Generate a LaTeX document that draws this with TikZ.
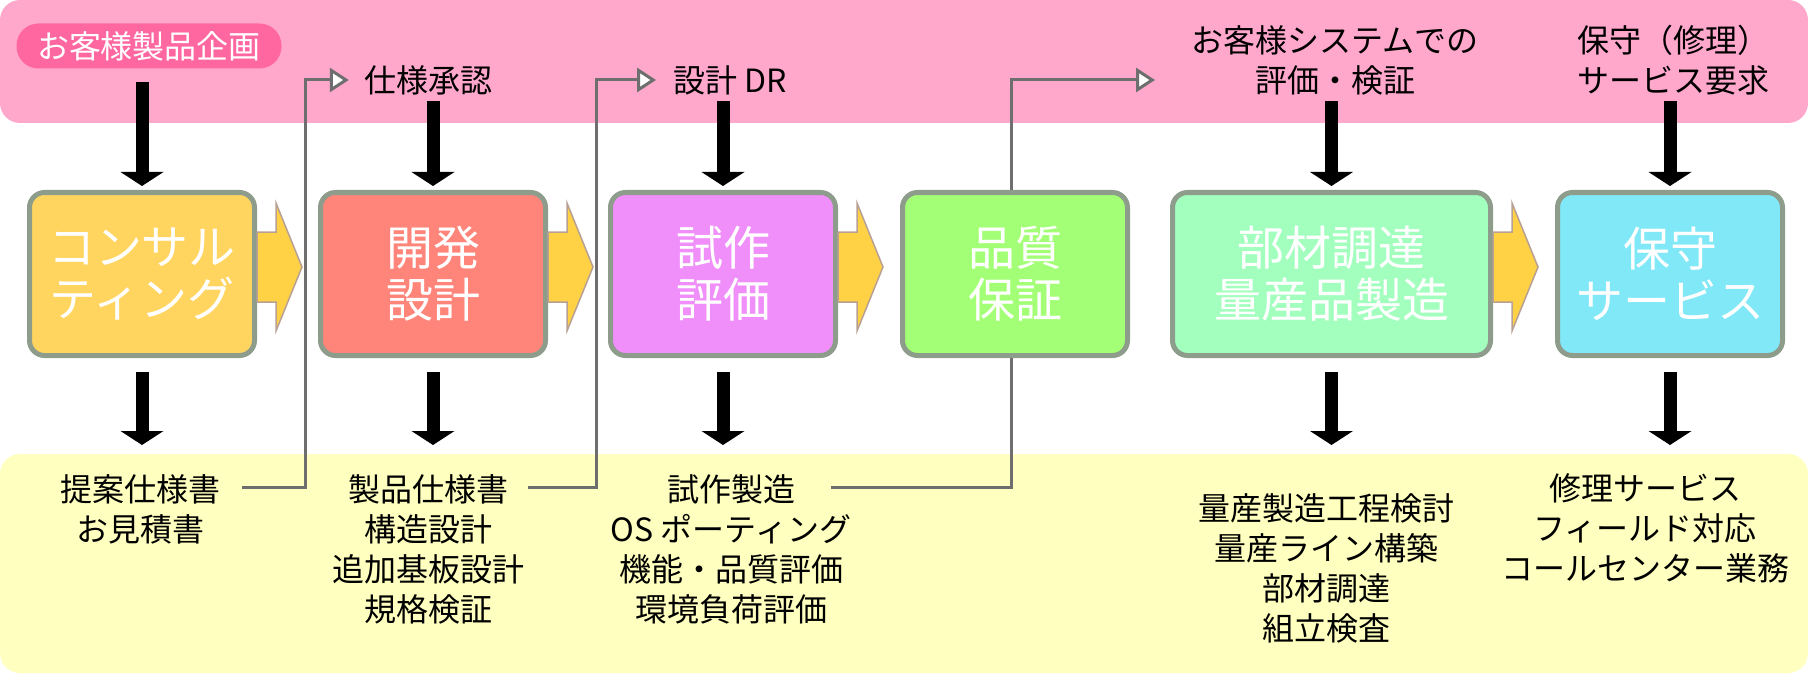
\documentclass[tikz,border=0pt]{standalone}
\usepackage{fontspec}
\setmainfont{Noto Sans CJK JP}
\usepackage{tikz}
\usetikzlibrary{arrows.meta}
\definecolor{bandpink}{HTML}{FFA8CC}
\definecolor{pillpink}{HTML}{FF67A0}
\definecolor{bandyellow}{HTML}{FFFFBF}
\definecolor{rimgray}{HTML}{8E9C8C}
\definecolor{feedgray}{HTML}{6E6E6E}
\definecolor{flowfill}{HTML}{FFD246}
\definecolor{flowline}{HTML}{B8A092}
\definecolor{cConsult}{HTML}{FFD560}
\definecolor{cDesign}{HTML}{FF857A}
\definecolor{cProto}{HTML}{F08EFA}
\definecolor{cQuality}{HTML}{A3FF75}
\definecolor{cMass}{HTML}{A2FFBE}
\definecolor{cService}{HTML}{80E8F6}
\tikzset{
	stage/.style    = {draw=rimgray, line width=5pt, rounded corners=15pt,
		minimum width=225pt, minimum height=163pt, text=white, align=center,
		font=\fontsize{47}{52}\selectfont},
	request/.style  = {inner sep=0pt, align=center, font=\fontsize{32}{40}\selectfont},
	result/.style   = {inner sep=0pt, align=center, anchor=north,
		font=\fontsize{32}{40}\selectfont},
	pill/.style     = {fill=pillpink, text=white, rounded corners=22pt,
		minimum width=265pt, minimum height=45pt, font=\fontsize{32}{40}\selectfont},
	downarrow/.style = {line width=13pt, -{Triangle[length=14pt, width=43pt, line width=0pt]}},
	feed/.style     = {draw=feedgray, line width=3pt, line join=miter,
		-{Triangle[length=19pt, width=24pt, fill=white]}}, % back to the customer
	flowarr/.style  = {draw=flowline, fill=flowfill, line width=1.5pt, line join=miter}
}
\newcommand{\flowarrow}[1]{\draw[flowarr]([yshift=7pt]#1.east) ++(0,-35) -- ++(19,0) -- ++(0,-29)
	-- ++(26,64) -- ++(-26,64) -- ++(0,-29) -- ++(-19,0) -- cycle;}

\begin{document}
\begin{tikzpicture}[x=1pt, y=-1pt]
		\useasboundingbox (0,0) rectangle (1808,674);
		\fill[bandpink, rounded corners=20pt] (0,0) rectangle (1808,123);
		\fill[bandyellow, rounded corners=20pt] (0,454) rectangle (1808,673);
		
		\draw
		node at (149,46) [pill] (p0) {お客様製品企画}
		node at (428,80) [request] (q2) {仕様承認}
		node at (730,80) [request] (q3) {設計 DR}
		node at (1335,60) [request] (q5) {お客様システムでの\\評価・検証}
		node at (1673,60) [request] (q6) {保守（修理）\\サービス要求};
		
		\draw
		node at (140,474) [result] (o1) {提案仕様書\\お見積書}
		node at (428,474) [result] (o2) {製品仕様書\\構造設計\\追加基板設計\\規格検証}
		node at (731,474) [result] (o3) {試作製造\\OS ポーティング\\機能・品質評価\\環境負荷評価}
		node at (1326,493) [result] (o5) {量産製造工程検討\\量産ライン構築\\部材調達\\組立検査}
		node at (1645,473) [result] (o6) {修理サービス\\フィールド対応\\コールセンター業務};
		
		% feedback lines
		\coordinate (f1) at (242,487);
		\coordinate (j1) at (305,80);
		\coordinate (f2) at (528,487);
		\coordinate (j2) at (596,80);
		\coordinate (f3) at (831,487);
		\coordinate (j3) at (1011,80);
		\coordinate (e3) at (1155,80);
		\draw[feed](f1) -| (j1) -- ([xshift=-15pt]q2.west);
		\draw[feed](f2) -| (j2) -- ([xshift=-17pt]q3.west);
		\draw[feed](f3) -| (j3) -- (e3);
		
		\draw
		node at (142,274) [stage, fill=cConsult] (c1) {コンサル\\ティング}
		node at (433,274) [stage, fill=cDesign] (c2) {開発\\設計}
		node at (723,274) [stage, fill=cProto] (c3) {試作\\評価}
		node at (1015,274) [stage, fill=cQuality] (c4) {品質\\保証}
		node at (1331.5,274) [stage, fill=cMass, minimum width=318pt] (c5) {部材調達\\量産品製造}
		node at (1670,274) [stage, fill=cService] (c6) {保守\\サービス};
		
		\flowarrow{c1}
		\flowarrow{c2}
		\flowarrow{c3}
		\flowarrow{c5}
		
		\draw[downarrow, shorten <=13pt, shorten >=4pt](c1.north |- p0.south) -- (c1.north);
		\draw[downarrow, shorten <=6pt, shorten >=4pt](c2.north |- q2.south) -- (c2.north);
		\draw[downarrow, shorten <=6pt, shorten >=4pt](c3.north |- q3.south) -- (c3.north);
		\draw[downarrow, shorten <=6pt, shorten >=4pt](c5.north |- q5.south) -- (c5.north);
		\draw[downarrow, shorten <=6pt, shorten >=4pt](c6.north |- q6.south) -- (c6.north);
		
		\draw[downarrow, shorten <=14pt](c1.south) -- ++(0,87);
		\draw[downarrow, shorten <=14pt](c2.south) -- ++(0,87);
		\draw[downarrow, shorten <=14pt](c3.south) -- ++(0,87);
		\draw[downarrow, shorten <=14pt](c5.south) -- ++(0,87);
		\draw[downarrow, shorten <=14pt](c6.south) -- ++(0,87);
		
\end{tikzpicture}
\end{document}
